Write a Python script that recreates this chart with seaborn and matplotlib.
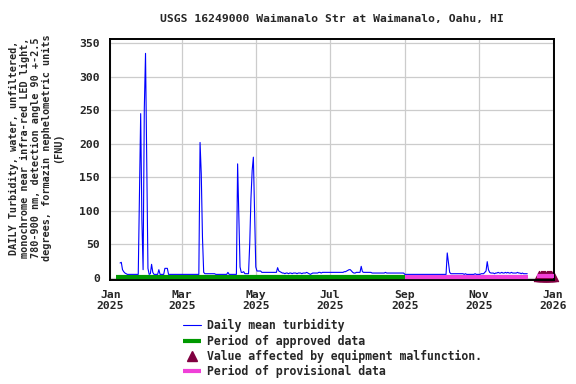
import numpy as np
import pandas as pd
import matplotlib
matplotlib.use("Agg")
import matplotlib.pyplot as plt
import matplotlib.dates as mdates
from matplotlib.lines import Line2D
import seaborn as sns

# ---------------- data ----------------
title = "USGS 16249000 Waimanalo Str at Waimanalo, Oahu, HI"
ylabel = ("DAILY Turbidity, water, unfiltered,\n"
          "monochrome near infra-red LED light,\n"
          "780-900 nm, detection angle 90 +-2.5\n"
          "degrees, formazin nephelometric units\n"
          "(FNU)")

series_start = "2025-01-09"
jan = [22, 23, 12, 9, 7, 6, 5, 5, 5, 5, 5, 5, 5, 5, 5, 5, 126, 245, 86, 12, 253, 335, 178]
feb = [14, 5, 6, 20, 8, 5, 5, 5, 5, 12, 5, 5, 5, 5, 14, 14, 14, 5, 5, 5, 5, 5, 5, 5, 5, 5, 5, 5]
mar = [5, 5, 5, 5, 5, 5, 5, 5, 5, 5, 5, 5, 5, 5, 5, 202, 155, 60, 8,
       6, 6, 6, 6, 6, 6, 6, 6, 6, 5, 5, 5]
apr = [5, 5, 5, 5, 5, 5, 5, 8, 5, 5, 5, 5, 5, 5, 5, 170, 90, 16, 8, 8, 9, 6, 6, 6, 6,
       51, 118, 160, 180, 98]
may = [16, 10, 10, 10, 10, 8, 8, 8, 8, 8, 8, 8, 8, 8, 8, 8, 8, 8, 15, 10, 9,
       8, 7, 7, 6, 7, 7, 6, 7, 7, 6]
jun = [7, 7, 7, 6, 7, 7, 7, 6, 7, 7, 7, 8, 7, 6, 5, 6, 7, 7, 7, 7, 7, 8, 8, 7, 8, 8, 8, 8, 8, 8]
jul = [8, 8, 8, 8, 8, 8, 8, 8, 8, 8, 8, 8, 9, 9, 10, 11, 12, 12, 10, 8, 7, 7, 8, 8, 8, 8,
       17, 9, 8, 8, 8]
aug = [8, 8, 8, 8, 7, 7, 7, 7, 7, 7, 7, 7, 7, 7, 7, 8, 7, 7, 7, 7, 7, 7, 7, 7, 7, 7, 7, 7, 7, 7, 7]
sep = [5, 5, 5, 5, 5, 5, 5, 5, 5, 5, 5, 5, 5, 5, 5, 5, 5, 5, 5, 5, 5, 5, 5, 5, 5, 5, 5, 5, 5, 5]
oct_ = [5, 5, 5, 5, 5, 37, 23, 8, 6, 6, 6, 6, 6, 6, 6, 6, 6, 6, 6, 5, 6, 5, 5, 5, 5, 5, 5, 5, 6, 5, 5]
nov = [5, 5, 6, 6, 6, 8, 10, 24, 12, 8, 7, 7, 7, 6, 7, 7, 8, 7, 7, 8, 7, 7, 8, 7, 8, 7, 7, 8, 7, 7]
dec = [7, 7, 8, 7, 7, 6, 7, 6, 6, 6, 6]

approved_period = ("2025-01-06 00:00", "2025-08-31 20:00")
provisional_periods = [("2025-08-31 20:00", "2025-12-11 12:00"),
                       ("2025-12-19 06:00", "2026-01-02 06:00")]
malfunction_start, malfunction_end = "2025-12-21", "2026-01-01"
malfunction_level = 3

tick_dates = ["2025-01-01", "2025-03-01", "2025-05-01", "2025-07-01",
              "2025-09-01", "2025-11-01", "2026-01-01"]
tick_labels = ["Jan\n2025", "Mar\n2025", "May\n2025", "Jul\n2025",
               "Sep\n2025", "Nov\n2025", "Jan\n2026"]
yticks = [0, 50, 100, 150, 200, 250, 300, 350]

legend_labels = ["Daily mean turbidity", "Period of approved data",
                 "Value affected by equipment malfunction.", "Period of provisional data"]

# ---------------- style ----------------
blue = "#0000FF"
green = "#009900"
maroon = "#800040"
pink = "#F040D8"
sns.set_theme(style="white")
plt.rcParams["font.family"] = ["DejaVu Sans Mono"]
plt.rcParams["font.weight"] = "bold"
FS = 8.2

values = jan + feb + mar + apr + may + jun + jul + aug + sep + oct_ + nov + dec
dates = pd.date_range(series_start, periods=len(values), freq="D")
df = pd.DataFrame({"date": dates, "value": values})

mal_dates = pd.date_range(malfunction_start, malfunction_end, freq="D")
mal_df = pd.DataFrame({"date": mal_dates, "value": [malfunction_level] * len(mal_dates)})

W, H = 576, 384
fig = plt.figure(figsize=(W / 100, H / 100), dpi=100)
L, R, T, B = 110.2, 554, 39.3, 280
ax = fig.add_axes([L / W, 1 - B / H, (R - L) / W, (B - T) / H])

# malfunction markers
sns.scatterplot(data=mal_df, x="date", y="value", ax=ax, marker="^", s=55,
                color=maroon, edgecolor=maroon, linewidth=0.8, zorder=2, clip_on=False,
                legend=False)
# approval periods
ax.plot([pd.Timestamp(t) for t in approved_period], [1.5, 1.5], color=green, lw=3,
        solid_capstyle="butt", zorder=3)
for i, (s, e) in enumerate(provisional_periods):
    yv = 1.5 if i == 0 else 2.5
    ax.plot([pd.Timestamp(s), pd.Timestamp(e)], [yv, yv], color=pink, lw=3,
            solid_capstyle="butt", zorder=3, clip_on=False)
# daily mean line
sns.lineplot(data=df, x="date", y="value", ax=ax, color=blue, lw=0.8, zorder=4)

x0 = mdates.date2num(pd.Timestamp("2025-01-01")) - 0.15
x1 = mdates.date2num(pd.Timestamp("2026-01-02")) + 0.1
ax.set_xlim(x0, x1)
ax.set_ylim(-3.4, 356)
ax.set_xticks([pd.Timestamp(t) for t in tick_dates])
ax.set_xticklabels(tick_labels, fontsize=FS, fontweight="bold", linespacing=1.2)
ax.set_yticks(yticks)
ax.set_yticklabels([str(v) for v in yticks], fontsize=FS, fontweight="bold")
ax.tick_params(axis="both", length=0)
ax.tick_params(axis="y", pad=7.5)
ax.tick_params(axis="x", pad=7)
ax.set_xlabel("")
ax.set_ylabel("")
ax.grid(True, color="#CCCCCC", lw=0.9)
ax.set_axisbelow(True)
for sp in ax.spines.values():
    sp.set_color("black")
    sp.set_linewidth(1.4)

fig.text(332 / W, 1 - 19 / H, title, ha="center", va="center", fontsize=FS, fontweight="bold")
fig.text(36 / W, 1 - 148 / H, ylabel, rotation=90, ha="center", va="center",
         multialignment="center", fontsize=7.3, fontweight="bold", linespacing=1.15)

handles = [Line2D([], [], color=blue, lw=0.8),
           Line2D([], [], color=green, lw=3, solid_capstyle="butt"),
           Line2D([], [], color=maroon, lw=0, marker="^", markersize=7),
           Line2D([], [], color=pink, lw=3, solid_capstyle="butt")]
fig.legend(handles, legend_labels, loc="center left",
           bbox_to_anchor=(183 / W, 1 - 348.7 / H), frameon=False,
           prop={"family": "DejaVu Sans Mono", "weight": "bold", "size": 8.3},
           handlelength=1.52, handletextpad=0.55, labelspacing=0.2,
           borderpad=0, borderaxespad=0)

fig.savefig("out.png", dpi=100)
